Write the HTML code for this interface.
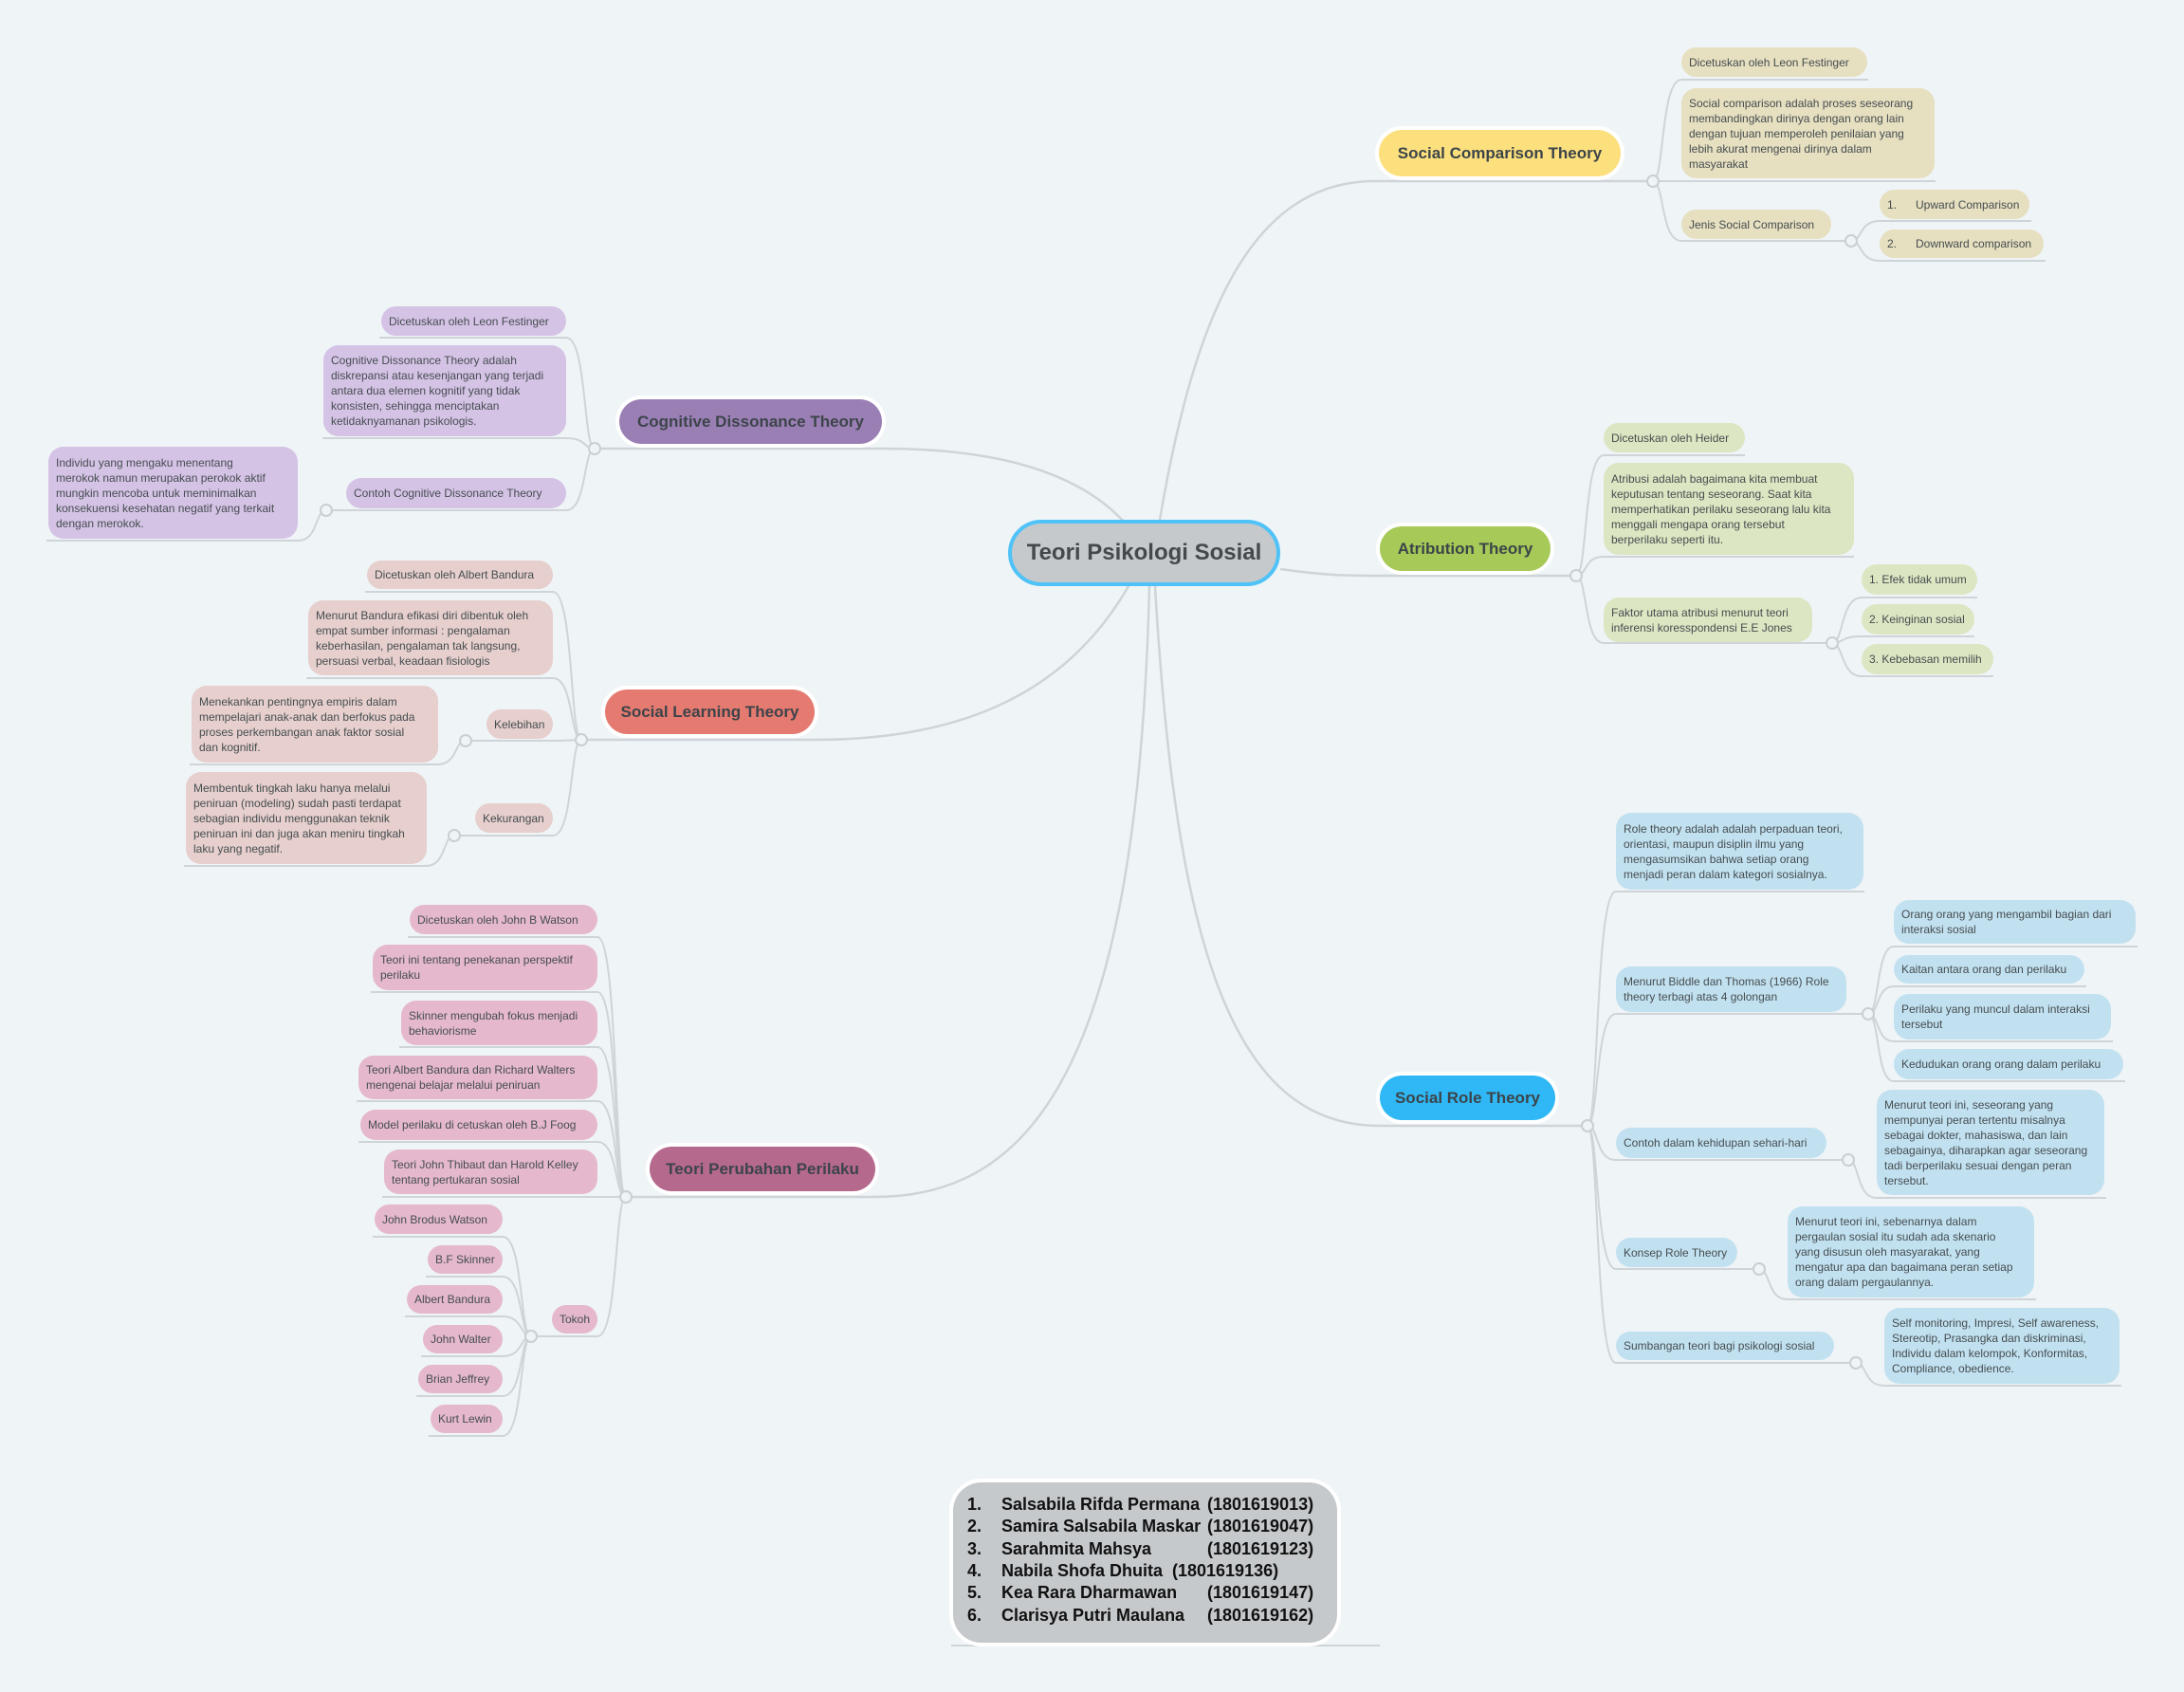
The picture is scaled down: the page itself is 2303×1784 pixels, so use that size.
<!DOCTYPE html>
<html><head><meta charset="utf-8">
<style>
html,body{margin:0;padding:0;}
body{width:2303px;height:1784px;background:#eff4f7;position:relative;overflow:hidden;font-family:"Liberation Sans",sans-serif;}
svg{position:absolute;left:0;top:0;}
.b{position:absolute;box-sizing:border-box;display:flex;align-items:center;padding:0 8px;font-size:12px;line-height:16px;color:#454d50;border-radius:16px;white-space:nowrap;}
.t{position:absolute;box-sizing:border-box;display:flex;align-items:center;justify-content:center;font-weight:bold;font-size:17px;color:#3c4449;border-radius:26px;box-shadow:0 0 0 4px #fff;white-space:nowrap;}
.y{background:#e6dfc0}.g{background:#dce6c2}.p{background:#d5c3e6}.r{background:#e6cfcd}.k{background:#e5b8ce}.c{background:#c2e1f0}
.names{position:absolute;left:1005px;top:1563px;width:405px;height:169px;background:#c5c9cb;border-radius:30px;box-shadow:0 0 0 4px #fff;font-weight:bold;font-size:18px;color:#111;}
.names div{position:absolute;white-space:nowrap;}
</style></head><body>
<svg width="2303" height="1784" fill="none" stroke="#cfd4d8" stroke-width="2">
<path d="M1223,548 C1260,330 1320,191 1450,191 L1743,191" stroke-width="2.5"/>
<path d="M1350,600 C1400,607 1420,607 1455,607 L1662,607" stroke-width="2.5"/>
<path d="M1218,618 C1240,1000 1300,1187 1455,1187 L1674,1187" stroke-width="2.5"/>
<path d="M1185,550 C1120,480 1000,473 930,473 L627,473" stroke-width="2.5"/>
<path d="M1190,618 C1120,740 1000,780 859,780 L613,780" stroke-width="2.5"/>
<path d="M1212,618 C1200,1100 1100,1262 923,1262 L660,1262" stroke-width="2.5"/>
<path d="M1743,191 C1755,191 1751,84 1773,84 L1970,84"/>
<path d="M1743,191 L2041,191"/>
<path d="M1743,191 C1755,191 1751,254 1773,254 L1952,254"/>
<path d="M1952,254 C1964,254 1960,233 1982,233 L2142,233"/>
<path d="M1952,254 C1964,254 1960,275 1982,275 L2157,275"/>
<path d="M1662,607 C1674,607 1670,480 1691,480 L1840,480"/>
<path d="M1662,607 C1674,607 1670,587 1691,587 L1955,587"/>
<path d="M1662,607 C1674,607 1670,678 1691,678 L1932,678"/>
<path d="M1932,678 C1944,678 1941,630 1963,630 L2085,630"/>
<path d="M1932,678 C1944,678 1941,671 1963,671 L2082,671"/>
<path d="M1932,678 C1944,678 1941,713 1963,713 L2102,713"/>
<path d="M627,473 C615,473 619,356 597,356 L400,356"/>
<path d="M627,473 C615,473 619,462 597,462 L340,462"/>
<path d="M627,473 C615,473 619,538 597,538 L344,538"/>
<path d="M344,538 C332,538 336,570 314,570 L49,570"/>
<path d="M613,780 C601,780 605,624 583,624 L385,624"/>
<path d="M613,780 C601,780 605,715 583,715 L323,715"/>
<path d="M613,780 C601,780 605,781 583,781 L491,781"/>
<path d="M613,780 C601,780 605,881 583,881 L479,881"/>
<path d="M491,781 C479,781 483,806 461,806 L200,806"/>
<path d="M479,881 C467,881 471,913 449,913 L194,913"/>
<path d="M660,1262 C648,1262 652,988 630,988 L430,988"/>
<path d="M660,1262 C648,1262 652,1046 630,1046 L391,1046"/>
<path d="M660,1262 C648,1262 652,1104 630,1104 L421,1104"/>
<path d="M660,1262 C648,1262 652,1161 630,1161 L376,1161"/>
<path d="M660,1262 C648,1262 652,1204 630,1204 L378,1204"/>
<path d="M660,1262 L403,1262"/>
<path d="M660,1262 C648,1262 652,1409 630,1409 L560,1409"/>
<path d="M560,1409 C548,1409 552,1304 530,1304 L393,1304"/>
<path d="M560,1409 C548,1409 552,1346 530,1346 L449,1346"/>
<path d="M560,1409 C548,1409 552,1388 530,1388 L427,1388"/>
<path d="M560,1409 C548,1409 552,1430 530,1430 L444,1430"/>
<path d="M560,1409 C548,1409 552,1472 530,1472 L439,1472"/>
<path d="M560,1409 C548,1409 552,1514 530,1514 L452,1514"/>
<path d="M1674,1187 C1686,1187 1682,940 1704,940 L1966,940"/>
<path d="M1674,1187 C1686,1187 1682,1069 1704,1069 L1970,1069"/>
<path d="M1674,1187 C1686,1187 1682,1223 1704,1223 L1949,1223"/>
<path d="M1674,1187 C1686,1187 1682,1338 1704,1338 L1855,1338"/>
<path d="M1674,1187 C1686,1187 1682,1437 1704,1437 L1957,1437"/>
<path d="M1970,1069 C1982,1069 1978,998 1997,998 L2254,998"/>
<path d="M1970,1069 C1982,1069 1978,1040 1997,1040 L2200,1040"/>
<path d="M1970,1069 C1982,1069 1978,1098 1997,1098 L2228,1098"/>
<path d="M1970,1069 C1982,1069 1978,1140 1997,1140 L2241,1140"/>
<path d="M1949,1223 C1961,1223 1957,1263 1979,1263 L2221,1263"/>
<path d="M1855,1338 C1867,1338 1863,1370 1885,1370 L2147,1370"/>
<path d="M1957,1437 C1969,1437 1965,1461 1987,1461 L2237,1461"/>
<path d="M1003,1735 L1455,1735"/>
<g fill="#eff4f7" stroke="#c9cfd3" stroke-width="2">
<circle cx="1743" cy="191" r="6"/><circle cx="1952" cy="254" r="6"/>
<circle cx="1662" cy="607" r="6"/><circle cx="1932" cy="678" r="6"/>
<circle cx="627" cy="473" r="6"/><circle cx="344" cy="538" r="6"/>
<circle cx="613" cy="780" r="6"/><circle cx="491" cy="781" r="6"/><circle cx="479" cy="881" r="6"/>
<circle cx="660" cy="1262" r="6"/><circle cx="560" cy="1409" r="6"/>
<circle cx="1674" cy="1187" r="6"/><circle cx="1970" cy="1069" r="6"/><circle cx="1949" cy="1223" r="6"/><circle cx="1855" cy="1338" r="6"/><circle cx="1957" cy="1437" r="6"/>
</g>
</svg>

<div style="position:absolute;left:1063px;top:548px;width:287px;height:70px;box-sizing:border-box;background:#c5c9cb;border:4px solid #4fc3f7;border-radius:35px;display:flex;align-items:center;justify-content:center;font-weight:bold;font-size:24px;color:#43494d;">Teori Psikologi Sosial</div>

<div class="t" style="left:1454px;top:137px;width:255px;height:49px;background:#fde07e;">Social Comparison Theory</div>
<div class="t" style="left:1455px;top:555px;width:180px;height:47px;background:#a7c957;">Atribution Theory</div>
<div class="t" style="left:1455px;top:1134px;width:185px;height:47px;background:#2fb8f5;">Social Role Theory</div>
<div class="t" style="left:653px;top:421px;width:277px;height:47px;background:#9a7fb5;">Cognitive Dissonance Theory</div>
<div class="t" style="left:638px;top:727px;width:221px;height:47px;background:#e57a70;">Social Learning Theory</div>
<div class="t" style="left:685px;top:1209px;width:238px;height:47px;background:#b5698d;">Teori Perubahan Perilaku</div>

<div class="b y" style="left:1773px;top:50px;width:196px;height:31px;">Dicetuskan oleh Leon Festinger</div>
<div class="b y" style="left:1773px;top:93px;width:267px;height:95px;">Social comparison adalah proses seseorang<br>membandingkan dirinya dengan orang lain<br>dengan tujuan memperoleh penilaian yang<br>lebih akurat mengenai dirinya dalam<br>masyarakat</div>
<div class="b y" style="left:1773px;top:221px;width:158px;height:31px;">Jenis Social Comparison</div>
<div class="b y" style="left:1982px;top:200px;width:158px;height:31px;">1.&nbsp;&nbsp;&nbsp;&nbsp;&nbsp; Upward Comparison</div>
<div class="b y" style="left:1982px;top:242px;width:173px;height:30px;">2.&nbsp;&nbsp;&nbsp;&nbsp;&nbsp; Downward comparison</div>

<div class="b g" style="left:1691px;top:446px;width:149px;height:31px;">Dicetuskan oleh Heider</div>
<div class="b g" style="left:1691px;top:488px;width:264px;height:97px;">Atribusi adalah bagaimana kita membuat<br>keputusan tentang seseorang. Saat kita<br>memperhatikan perilaku seseorang lalu kita<br>menggali mengapa orang tersebut<br>berperilaku seperti itu.</div>
<div class="b g" style="left:1691px;top:630px;width:220px;height:47px;">Faktor utama atribusi menurut teori<br>inferensi koresspondensi E.E Jones</div>
<div class="b g" style="left:1963px;top:595px;width:122px;height:32px;">1. Efek tidak umum</div>
<div class="b g" style="left:1963px;top:637px;width:119px;height:32px;">2. Keinginan sosial</div>
<div class="b g" style="left:1963px;top:679px;width:139px;height:32px;">3. Kebebasan memilih</div>

<div class="b p" style="left:402px;top:323px;width:195px;height:31px;">Dicetuskan oleh Leon Festinger</div>
<div class="b p" style="left:341px;top:364px;width:256px;height:96px;">Cognitive Dissonance Theory adalah<br>diskrepansi atau kesenjangan yang terjadi<br>antara dua elemen kognitif yang tidak<br>konsisten, sehingga menciptakan<br>ketidaknyamanan psikologis.</div>
<div class="b p" style="left:365px;top:504px;width:232px;height:32px;">Contoh Cognitive Dissonance Theory</div>
<div class="b p" style="left:51px;top:471px;width:263px;height:97px;">Individu yang mengaku menentang<br>merokok namun merupakan perokok aktif<br>mungkin mencoba untuk meminimalkan<br>konsekuensi kesehatan negatif yang terkait<br>dengan merokok.</div>

<div class="b r" style="left:387px;top:591px;width:196px;height:30px;">Dicetuskan oleh Albert Bandura</div>
<div class="b r" style="left:325px;top:633px;width:258px;height:79px;">Menurut Bandura efikasi diri dibentuk oleh<br>empat sumber informasi : pengalaman<br>keberhasilan, pengalaman tak langsung,<br>persuasi verbal, keadaan fisiologis</div>
<div class="b r" style="left:513px;top:748px;width:70px;height:31px;">Kelebihan</div>
<div class="b r" style="left:202px;top:723px;width:260px;height:81px;">Menekankan pentingnya empiris dalam<br>mempelajari anak-anak dan berfokus pada<br>proses perkembangan anak faktor sosial<br>dan kognitif.</div>
<div class="b r" style="left:501px;top:847px;width:82px;height:31px;">Kekurangan</div>
<div class="b r" style="left:196px;top:814px;width:254px;height:97px;">Membentuk tingkah laku hanya melalui<br>peniruan (modeling) sudah pasti terdapat<br>sebagian individu menggunakan teknik<br>peniruan ini dan juga akan meniru tingkah<br>laku yang negatif.</div>

<div class="b k" style="left:432px;top:954px;width:198px;height:31px;">Dicetuskan oleh John B Watson</div>
<div class="b k" style="left:393px;top:996px;width:237px;height:48px;">Teori ini tentang penekanan perspektif<br>perilaku</div>
<div class="b k" style="left:423px;top:1055px;width:207px;height:47px;">Skinner mengubah fokus menjadi<br>behaviorisme</div>
<div class="b k" style="left:378px;top:1113px;width:252px;height:46px;">Teori Albert Bandura dan Richard Walters<br>mengenai belajar melalui peniruan</div>
<div class="b k" style="left:380px;top:1170px;width:250px;height:32px;">Model perilaku di cetuskan oleh B.J Foog</div>
<div class="b k" style="left:405px;top:1212px;width:225px;height:47px;">Teori John Thibaut dan Harold Kelley<br>tentang pertukaran sosial</div>
<div class="b k" style="left:582px;top:1376px;width:48px;height:30px;">Tokoh</div>
<div class="b k" style="left:395px;top:1270px;width:135px;height:31px;">John Brodus Watson</div>
<div class="b k" style="left:451px;top:1313px;width:79px;height:30px;">B.F Skinner</div>
<div class="b k" style="left:429px;top:1355px;width:101px;height:30px;">Albert Bandura</div>
<div class="b k" style="left:446px;top:1397px;width:84px;height:30px;">John Walter</div>
<div class="b k" style="left:441px;top:1439px;width:89px;height:30px;">Brian Jeffrey</div>
<div class="b k" style="left:454px;top:1481px;width:76px;height:30px;">Kurt Lewin</div>

<div class="b c" style="left:1704px;top:857px;width:261px;height:81px;">Role theory adalah adalah perpaduan teori,<br>orientasi, maupun disiplin ilmu yang<br>mengasumsikan bahwa setiap orang<br>menjadi peran dalam kategori sosialnya.</div>
<div class="b c" style="left:1704px;top:1019px;width:243px;height:48px;">Menurut Biddle dan Thomas (1966) Role<br>theory terbagi atas 4 golongan</div>
<div class="b c" style="left:1997px;top:949px;width:255px;height:46px;">Orang orang yang mengambil bagian dari<br>interaksi sosial</div>
<div class="b c" style="left:1997px;top:1007px;width:201px;height:30px;">Kaitan antara orang dan perilaku</div>
<div class="b c" style="left:1997px;top:1048px;width:229px;height:48px;">Perilaku yang muncul dalam interaksi<br>tersebut</div>
<div class="b c" style="left:1997px;top:1106px;width:242px;height:32px;">Kedudukan orang orang dalam perilaku</div>
<div class="b c" style="left:1704px;top:1189px;width:222px;height:32px;">Contoh dalam kehidupan sehari-hari</div>
<div class="b c" style="left:1979px;top:1149px;width:240px;height:111px;">Menurut teori ini, seseorang yang<br>mempunyai peran tertentu misalnya<br>sebagai dokter, mahasiswa, dan lain<br>sebagainya, diharapkan agar seseorang<br>tadi berperilaku sesuai dengan peran<br>tersebut.</div>
<div class="b c" style="left:1704px;top:1305px;width:128px;height:31px;">Konsep Role Theory</div>
<div class="b c" style="left:1885px;top:1272px;width:260px;height:96px;">Menurut teori ini, sebenarnya dalam<br>pergaulan sosial itu sudah ada skenario<br>yang disusun oleh masyarakat, yang<br>mengatur apa dan bagaimana peran setiap<br>orang dalam pergaulannya.</div>
<div class="b c" style="left:1704px;top:1404px;width:230px;height:30px;">Sumbangan teori bagi psikologi sosial</div>
<div class="b c" style="left:1987px;top:1379px;width:248px;height:80px;">Self monitoring, Impresi, Self awareness,<br>Stereotip, Prasangka dan diskriminasi,<br>Individu dalam kelompok, Konformitas,<br>Compliance, obedience.</div>

<div class="names">
<div style="left:15px;top:13px;">1.</div><div style="left:51px;top:13px;">Salsabila Rifda Permana</div><div style="left:268px;top:13px;">(1801619013)</div>
<div style="left:15px;top:36px;">2.</div><div style="left:51px;top:36px;">Samira Salsabila Maskar</div><div style="left:268px;top:36px;">(1801619047)</div>
<div style="left:15px;top:60px;">3.</div><div style="left:51px;top:60px;">Sarahmita Mahsya</div><div style="left:268px;top:60px;">(1801619123)</div>
<div style="left:15px;top:83px;">4.</div><div style="left:51px;top:83px;">Nabila Shofa Dhuita</div><div style="left:231px;top:83px;">(1801619136)</div>
<div style="left:15px;top:106px;">5.</div><div style="left:51px;top:106px;">Kea Rara Dharmawan</div><div style="left:268px;top:106px;">(1801619147)</div>
<div style="left:15px;top:130px;">6.</div><div style="left:51px;top:130px;">Clarisya Putri Maulana</div><div style="left:268px;top:130px;">(1801619162)</div>
</div>
</body></html>
